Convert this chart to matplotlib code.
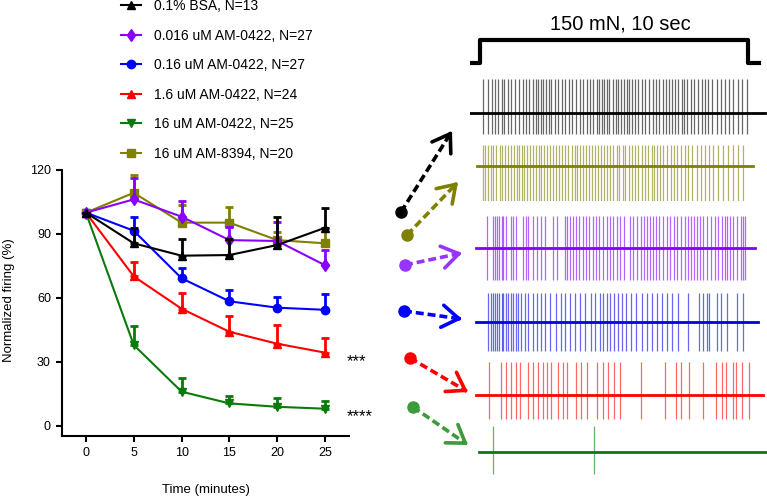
import matplotlib
matplotlib.use('Agg')
import matplotlib.pyplot as plt
from matplotlib.lines import Line2D
import numpy as np

plt.rcParams['font.family'] = ['Liberation Sans', 'DejaVu Sans']

# ---- time course (normalized firing, % of t=0) ----
minutes = [0, 5, 10, 15, 20, 25]
labels = ['0.1% BSA, N=13', '0.016 uM AM-0422, N=27', '0.16 uM AM-0422, N=27',
          '1.6 uM AM-0422, N=24', '16 uM AM-0422, N=25', '16 uM AM-8394, N=20']

bsa = [100, 85.6, 79.8, 80.1, 84.8, 92.9]
bsa_err = [0, 7, 8, 7.5, 13, 9.5]
am0422_0016 = [100, 106.2, 98.1, 87.1, 86.7, 75.3]
am0422_0016_err = [0, 10, 7.5, 6, 8.7, 7]
am0422_016 = [100, 91.5, 69.2, 58.4, 55.4, 54.4]
am0422_016_err = [0, 6.3, 4.7, 5.3, 5, 7.4]
am0422_1_6 = [100, 70.1, 54.9, 44.1, 38.5, 34.3]
am0422_1_6_err = [0, 6.6, 7.5, 7.2, 8.6, 6.9]
am0422_16 = [100, 37.9, 16.0, 10.5, 8.9, 8.0]
am0422_16_err = [0, 8.9, 6.2, 3.6, 3.9, 3.7]
am8394_16 = [100, 109.3, 95.3, 95.3, 87.1, 85.6]
am8394_16_err = [0, 8.3, 8.3, 7.2, 4, 7]

series = [bsa, am0422_0016, am0422_016, am0422_1_6, am0422_16, am8394_16]
errors = [bsa_err, am0422_0016_err, am0422_016_err, am0422_1_6_err, am0422_16_err, am8394_16_err]
colors = ['black', '#8a00ff', '#0000ff', '#ff0000', '#0a7a0a', '#808000']
markers = ['^', 'd', 'o', '^', 'v', 's']
zorders = [8, 7, 5, 4, 3, 6]

# ---- example recordings (spike times in s, stimulus 0 - 9.85 s) ----
stim_t = [-0.37, 0, 0, 9.85, 9.85, 10.26]
stim_v = [0, 0, 1, 1, 0, 0]

black_spikes = [0.10, 0.31, 0.43, 0.55, 0.67, 0.82, 0.89, 1.02, 1.13, 1.29, 1.45, 1.59, 1.69,
                1.81, 1.96, 2.05, 2.14, 2.23, 2.33, 2.43, 2.52, 2.62, 2.76, 2.88, 3.00, 3.13,
                3.27, 3.37, 3.53, 3.68, 3.80, 3.92, 4.04, 4.17, 4.29, 4.39, 4.47, 4.56, 4.66,
                4.75, 4.88, 4.99, 5.09, 5.18, 5.31, 5.39, 5.48, 5.60, 5.71, 5.82, 5.94, 6.07,
                6.21, 6.35, 6.47, 6.58, 6.72, 6.84, 6.96, 7.05, 7.17, 7.29, 7.41, 7.51, 7.62,
                7.75, 7.87, 8.00, 8.15, 8.27, 8.39, 8.54, 8.70, 8.85, 9.01, 9.17, 9.31, 9.47,
                9.62, 9.80]
olive_spikes = [0.10, 0.18, 0.31, 0.39, 0.49, 0.59, 0.74, 0.82, 0.92, 1.04, 1.13, 1.25, 1.35,
                1.45, 1.53, 1.63, 1.74, 1.84, 1.94, 2.06, 2.16, 2.25, 2.35, 2.48, 2.57, 2.67,
                2.78, 2.89, 3.00, 3.13, 3.25, 3.37, 3.49, 3.58, 3.68, 3.77, 3.90, 4.00, 4.12,
                4.23, 4.33, 4.45, 4.55, 4.66, 4.78, 4.90, 5.02, 5.12, 5.25, 5.34, 5.47, 5.58,
                5.70, 5.82, 5.94, 6.07, 6.19, 6.31, 6.40, 6.50, 6.62, 6.74, 6.89, 7.01, 7.13,
                7.25, 7.38, 7.54, 7.66, 7.78, 7.97, 8.11, 8.27, 8.43, 8.58, 8.76, 8.95, 9.13,
                9.31, 9.50, 9.68]
purple_spikes = [0.25, 0.47, 0.55, 0.64, 0.71, 0.80, 0.86, 0.96, 1.13, 1.23, 1.32, 1.59, 1.69,
                 1.78, 1.96, 2.08, 2.23, 2.39, 2.67, 2.82, 3.13, 3.21, 3.31, 3.43, 3.53, 3.65,
                 3.77, 3.90, 4.02, 4.17, 4.26, 4.39, 4.51, 4.66, 4.78, 4.88, 5.02, 5.15, 5.29,
                 5.51, 5.64, 5.76, 5.91, 6.03, 6.13, 6.25, 6.35, 6.47, 6.59, 6.72, 6.86, 6.99,
                 7.13, 7.25, 7.38, 7.54, 7.66, 7.75, 7.87, 7.97, 8.09, 8.21, 8.36, 8.48, 8.64,
                 8.76, 8.88, 9.01, 9.09, 9.19, 9.31, 9.46, 9.58, 9.66, 9.75]
blue_spikes = [0.31, 0.39, 0.47, 0.55, 0.64, 0.71, 0.80, 0.86, 0.96, 1.04, 1.13, 1.23, 1.32,
               1.41, 1.50, 1.65, 1.78, 1.94, 2.08, 2.23, 2.39, 2.57, 2.79, 2.97, 3.13, 3.31,
               3.49, 3.68, 3.86, 4.07, 4.23, 4.41, 4.53, 4.68, 4.78, 4.93, 5.09, 5.21, 5.37,
               5.54, 5.74, 5.94, 6.13, 6.31, 6.50, 6.68, 6.86, 7.05, 7.29, 7.66, 8.06, 8.21,
               8.33, 8.43, 8.73, 8.85, 9.07, 9.44, 9.68]
red_spikes = [0.33, 0.76, 0.96, 1.13, 1.31, 1.47, 1.75, 1.96, 2.12, 2.30, 2.45, 2.61, 2.88,
              3.06, 3.21, 3.53, 3.71, 3.95, 4.29, 4.51, 4.69, 4.93, 5.15, 5.91, 6.80, 7.19,
              7.38, 7.70, 8.19, 8.68, 8.88, 9.04, 9.31, 9.40, 9.62, 9.87]
green_spikes = [0.49, 4.20]

trace_spikes = [black_spikes, olive_spikes, purple_spikes, blue_spikes, red_spikes, green_spikes]
trace_spans = [(-0.37, 10.48), (-0.10, 10.03), (-0.15, 10.10), (-0.15, 10.23), (-0.15, 10.41), (-0.03, 10.54)]
spike_up = [34, 21, 32, 29, 33, 26]
spike_down = [21, 35, 32, 29, 24, 22]
trace_colors = ['black', '#7f7f00', '#8000ff', '#0000e6', '#ff0000', '#0b7a0b']
arrow_colors = ['black', '#808000', '#9933ff', '#0000ff', '#ff0000', '#3c9c3c']

W, H = 767, 496
fig = plt.figure(figsize=(W / 100, H / 100), dpi=100)

# ---- main plot ----
ax = fig.add_axes([62 / W, 1 - 436 / H, 287 / W, 266 / H])
for i in range(len(series)):
    c = colors[i]
    ax.errorbar(minutes, series[i], yerr=[np.zeros(6), errors[i]], fmt='none', ecolor=c,
                elinewidth=2, capsize=3, capthick=2, zorder=zorders[i])
    ax.plot(minutes, series[i], color=c, marker=markers[i], ms=6, lw=1.5, zorder=zorders[i])

ax.set_xlim(-2.5, 27.5)
ax.set_ylim(-4.8, 120)
ax.set_xticks([0, 5, 10, 15, 20, 25])
ax.set_yticks([0, 30, 60, 90, 120])
for s in ['top', 'right']:
    ax.spines[s].set_visible(False)
for s in ['left', 'bottom']:
    ax.spines[s].set_linewidth(1.5)
ax.tick_params(direction='out', length=4, width=1.5, labelsize=9, pad=4)
ax.set_xlabel('Time (minutes)', fontsize=9.5)
ax.set_ylabel('Normalized firing (%)', fontsize=9.5)
ax.xaxis.set_label_coords(0.5, -0.18)
ax.yaxis.set_label_coords(-0.165, 0.51)

ax.text(27.3, 29.9, '***', fontsize=12, ha='left', va='center', clip_on=False)
ax.text(27.3, 4.1, '****', fontsize=12, ha='left', va='center', clip_on=False)

handles = [Line2D([], [], color=colors[i], marker=markers[i], ms=6, lw=1.5) for i in range(6)]
fig.legend(handles, labels, loc='upper left', bbox_to_anchor=(121 / W, 1 + 1 / H),
           frameon=False, fontsize=10, handlelength=1.45, handletextpad=0.9,
           labelspacing=1.12, borderpad=0, borderaxespad=0)

# ---- stimulus bracket ----
t_lim = (-0.368, 10.55)
bk = fig.add_axes([470 / W, 1 - 66 / H, 297 / W, 30 / H])
bk.plot(stim_t, stim_v, color='black', lw=3, solid_joinstyle='round')
bk.set_xlim(t_lim)
bk.set_ylim(-0.13, 1.17)
bk.axis('off')
fig.text(620 / W, 1 - 24 / H, '150 mN, 10 sec', fontsize=14.5, ha='center', va='center')

# ---- recordings ----
baseline_px = [113, 166, 248, 322, 395, 452]
for i in range(6):
    b = baseline_px[i]
    tax = fig.add_axes([470 / W, 1 - (b + 35) / H, 297 / W, 70 / H])
    c = trace_colors[i]
    tax.vlines(trace_spikes[i], -spike_down[i], spike_up[i], color=c, lw=0.9, alpha=0.6)
    tax.plot(trace_spans[i], [0, 0], color=c, lw=2)
    tax.set_xlim(t_lim)
    tax.set_ylim(-35, 35)
    tax.axis('off')

# ---- arrows linking curves to traces ----
ov = fig.add_axes([0, 0, 1, 1])
ov.set_xlim(0, W)
ov.set_ylim(H, 0)
ov.axis('off')
arrow_starts = [(401, 212), (407, 235), (405, 265), (404, 311), (410, 358), (413, 407)]
arrow_ends = [(452, 131), (458, 182), (462, 253), (462, 319), (468, 392), (468, 445)]
for i in range(6):
    (x0, y0), (x1, y1) = arrow_starts[i], arrow_ends[i]
    c = arrow_colors[i]
    d = np.hypot(x1 - x0, y1 - y0)
    ux, uy = (x1 - x0) / d, (y1 - y0) / d
    ov.plot([x0, x1 - 2 * ux], [y0, y1 - 2 * uy], color=c, lw=2.6, ls=(0, (2.2, 1.1)))
    ov.annotate('', xy=(x1, y1), xytext=(x1 - 4 * ux, y1 - 4 * uy),
                arrowprops=dict(arrowstyle='->,head_length=0.6,head_width=0.4',
                                color=c, lw=2.6, shrinkA=0, shrinkB=0, mutation_scale=20))
    ov.plot(x0, y0, 'o', color=c, ms=8)

fig.savefig('out.png', dpi=100)
